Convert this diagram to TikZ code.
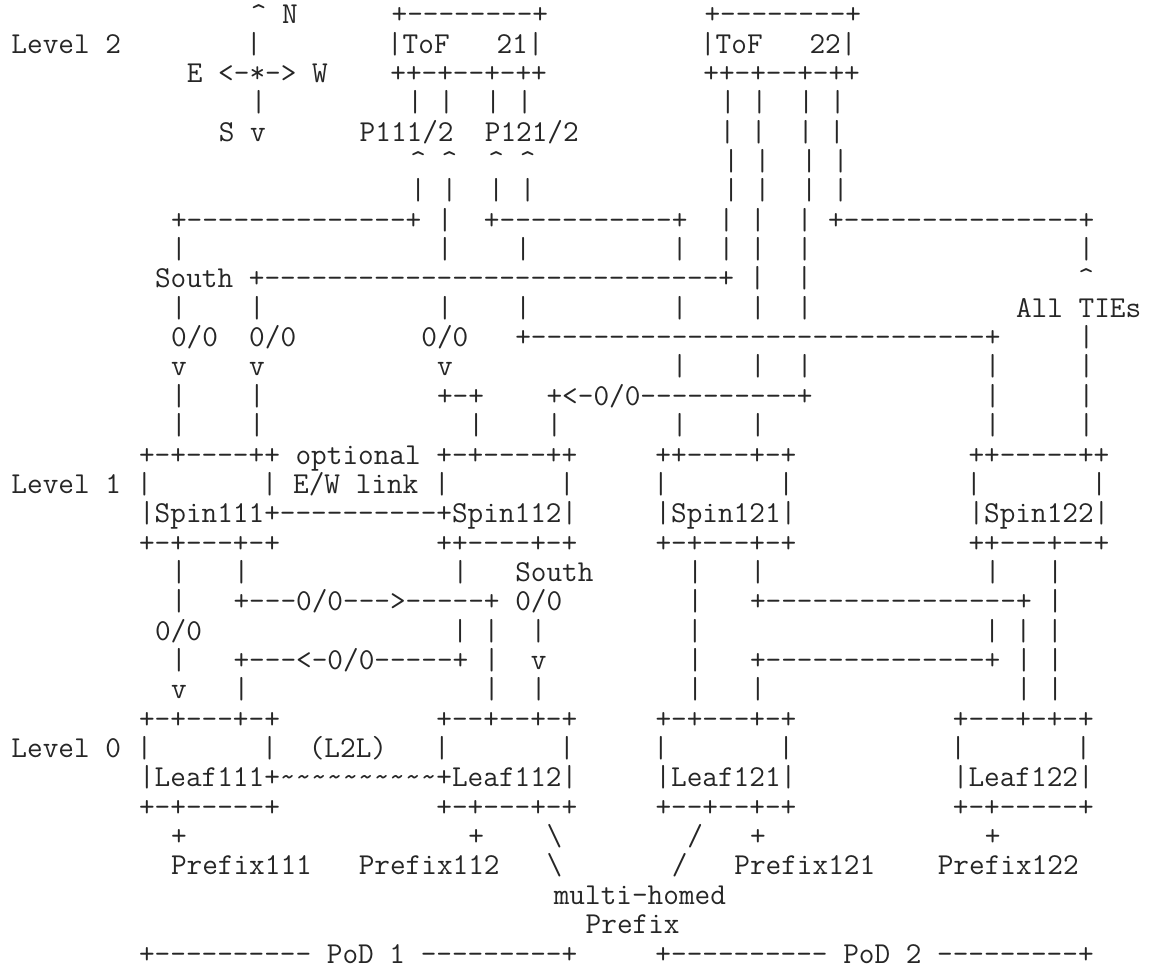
\documentclass[tikz,border=0pt]{standalone}
\usepackage{tikz}
\newcommand{\caret}{\textasciicircum}
\newcommand{\tld}{\textasciitilde}
\newcommand{\bsl}{\textbackslash}

\begin{document}
\begin{tikzpicture}[
    x=6pt, y=-11.04pt,
    asciirow/.style={anchor=base west, inner sep=0pt, outer sep=0pt, text=black!85,
        font=\ttfamily\fontsize{11.43}{13}\selectfont}
]
    \useasboundingbox (-0.72,-0.81) rectangle (72.44,32.13);

    % Level 2: compass and ToF boxes
    \node[asciirow] (row0) at (15,0) {\caret~N~~~~~~+--------+~~~~~~~~~~+--------+};
    \node[asciirow] (row1) at (0,1) {Level~2~~~~~~~~|~~~~~~~~|ToF~~~21|~~~~~~~~~~|ToF~~~22|};
    \node[asciirow] (row2) at (11,2) {E~<-*->~W~~~~++-+--+-++~~~~~~~~~~++-+--+-++};
    \node[asciirow] (row3) at (15,3) {|~~~~~~~~~|~|~~|~|~~~~~~~~~~~~|~|~~|~|};
    \node[asciirow] (row4) at (13,4) {S~v~~~~~~P111/2~~P121/2~~~~~~~~~|~|~~|~|};
    \node[asciirow] (row5) at (25,5) {\caret~\caret~~\caret~\caret~~~~~~~~~~~~|~|~~|~|};
    \node[asciirow] (row6) at (25,6) {|~|~~|~|~~~~~~~~~~~~|~|~~|~|};
    \node[asciirow] (row7) at (10,7) {+--------------+~|~~+-----------+~~|~|~~|~+---------------+};
    \node[asciirow] (row8) at (10,8) {|~~~~~~~~~~~~~~~~|~~~~|~~~~~~~~~|~~|~|~~|~~~~~~~~~~~~~~~~~|};
    \node[asciirow] (row9) at (9,9) {South~+-----------------------------+~|~~|~~~~~~~~~~~~~~~~~\caret};
    \node[asciirow] (row10) at (10,10) {|~~~~|~~~~~~~~~~~|~~~~|~~~~~~~~~|~~~~|~~|~~~~~~~~~~~~~All~TIEs};
    \node[asciirow] (row11) at (10,11) {0/0~~0/0~~~~~~~~0/0~~~+-----------------------------+~~~~~|};
    \node[asciirow] (row12) at (10,12) {v~~~~v~~~~~~~~~~~v~~~~~~~~~~~~~~|~~~~|~~|~~~~~~~~~~~|~~~~~|};
    \node[asciirow] (row13) at (10,13) {|~~~~|~~~~~~~~~~~+-+~~~~+<-0/0----------+~~~~~~~~~~~|~~~~~|};
    \node[asciirow] (row14) at (10,14) {|~~~~|~~~~~~~~~~~~~|~~~~|~~~~~~~|~~~~|~~~~~~~~~~~~~~|~~~~~|};

    % Level 1: spines
    \node[asciirow] (row15) at (8,15) {+-+----++~optional~+-+----++~~~~~++----+-+~~~~~~~~~~~++-----++};
    \node[asciirow] (row16) at (0,16) {Level~1~|~~~~~~~|~E/W~link~|~~~~~~~|~~~~~|~~~~~~~|~~~~~~~~~~~|~~~~~~~|};
    \node[asciirow] (row17) at (8,17) {|Spin111+----------+Spin112|~~~~~|Spin121|~~~~~~~~~~~|Spin122|};
    \node[asciirow] (row18) at (8,18) {+-+---+-+~~~~~~~~~~++----+-+~~~~~+-+---+-+~~~~~~~~~~~++---+--+};
    \node[asciirow] (row19) at (10,19) {|~~~|~~~~~~~~~~~~~|~~~South~~~~~~|~~~|~~~~~~~~~~~~~~|~~~|};
    \node[asciirow] (row20) at (10,20) {|~~~+---0/0--->-----+~0/0~~~~~~~~|~~~+----------------+~|};
    \node[asciirow] (row21) at (9,21) {0/0~~~~~~~~~~~~~~~~|~|~~|~~~~~~~~~|~~~~~~~~~~~~~~~~~~|~|~|};
    \node[asciirow] (row22) at (10,22) {|~~~+---<-0/0-----+~|~~v~~~~~~~~~|~~~+--------------+~|~|};
    \node[asciirow] (row23) at (10,23) {v~~~|~~~~~~~~~~~~~~~|~~|~~~~~~~~~|~~~|~~~~~~~~~~~~~~~~|~|};

    % Level 0: leaves and prefixes
    \node[asciirow] (row24) at (8,24) {+-+---+-+~~~~~~~~~~+--+--+-+~~~~~+-+---+-+~~~~~~~~~~+---+-+-+};
    \node[asciirow] (row25) at (0,25) {Level~0~|~~~~~~~|~~(L2L)~~~|~~~~~~~|~~~~~|~~~~~~~|~~~~~~~~~~|~~~~~~~|};
    \node[asciirow] (row26) at (8,26) {|Leaf111+\tld\tld\tld\tld\tld\tld\tld\tld\tld\tld+Leaf112|~~~~~|Leaf121|~~~~~~~~~~|Leaf122|};
    \node[asciirow] (row27) at (8,27) {+-+-----+~~~~~~~~~~+-+---+-+~~~~~+--+--+-+~~~~~~~~~~+-+-----+};
    \node[asciirow] (row28) at (10,28) {+~~~~~~~~~~~~~~~~~~+~~~~\bsl~~~~~~~~/~~~+~~~~~~~~~~~~~~+};
    \node[asciirow] (row29) at (10,29) {Prefix111~~~Prefix112~~~\bsl~~~~~~~/~~~Prefix121~~~~Prefix122};
    \node[asciirow] (row30) at (34,30) {multi-homed};
    \node[asciirow] (row31) at (36,31) {Prefix};
    \node[asciirow] (row32) at (8,32) {+----------~PoD~1~---------+~~~~~+----------~PoD~2~---------+};
\end{tikzpicture}
\end{document}
